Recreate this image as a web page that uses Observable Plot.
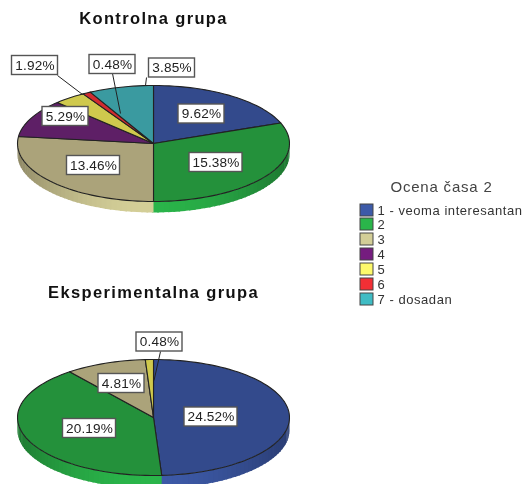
<!DOCTYPE html>
<html><head><meta charset="utf-8">
<style>
html,body{margin:0;padding:0;background:#fff;overflow:hidden}
svg{display:block;filter:blur(.5px)}
.ttl text{letter-spacing:1.35px}
.lgt text{letter-spacing:.8px}
.lgi text{letter-spacing:.55px}
.lab text{letter-spacing:.15px}
</style>
<script src="https://cdn.jsdelivr.net/npm/d3@7"></script>
<script src="https://cdn.jsdelivr.net/npm/@observablehq/plot@0.6"></script>
</head><body>
<div id="chart"></div>
<script>
const categories = ["1 - veoma interesantan","2","3","4","5","6","7 - dosadan"];
const kontrolna = [9.62,15.38,13.46,5.29,1.92,0.48,3.85];
const eksperimentalna = [24.52,20.19,4.81,0,0.48,0,0];
const legendColors = ["#3d5aa8","#2ab54a","#d3ce97","#751c7f","#fdf96b","#f22f35","#3fbcc4"];
const topColors = ["#334a8c","#24913b","#aba37a","#5e1f66","#cfc94d","#d12b2f","#3a9aa0"];
const legendTitle = "Ocena časa 2";

// layout of the two pies, in page pixels
const pies = [
  {title:"Kontrolna grupa", values:kontrolna, cx:153, cy:143, rx:136, ry:58, depth:11, titleY:18,
   labels:[[201,113.5],[215.5,162],[93,165],[65,116],[34.5,65],[112,64],[171.5,67.5]],
   leaders:[null,null,null,null,[57,75,82,94],[112,73,120,113],[146,77,145,85]]},
  {title:"Eksperimentalna grupa", values:eksperimentalna, cx:153, cy:417, rx:136, ry:58, depth:13, titleY:292,
   labels:[[210.5,416.5],[89,428],[121,383],null,[159,341.5],null,null],
   leaders:[null,null,null,null,[160,351,153.5,380],null,null]}
];

const tops=[], walls=[], labels=[], leaders=[], titles=[];
for (const p of pies) {
  titles.push({t:p.title, x:p.cx, y:p.titleY});
  const arcs = d3.pie().sort(null)(p.values);
  const px = a => p.cx + p.rx*Math.sin(a), py = a => p.cy - p.ry*Math.cos(a);
  arcs.forEach((arc,i)=>{
    if (!p.values[i]) return;
    const id = p.title+i, span = arc.endAngle-arc.startAngle, n = Math.max(2,Math.ceil(span/0.04));
    const pts=[{x:p.cx,y:p.cy}];
    for(let k=0;k<=n;k++){const a=arc.startAngle+span*k/n; pts.push({x:px(a),y:py(a)});}
    pts.push({x:p.cx,y:p.cy});
    pts.forEach(d=>tops.push({...d,id,cat:categories[i]}));
    // side wall: narrow strips on the front half of the rim
    for(let k=0;k<n;k++){
      const a0=arc.startAngle+span*k/n, a1=arc.startAngle+span*(k+1)/n;
      if (Math.cos(a0)>0 && Math.cos(a1)>0) continue;
      const m=(a0+a1)/2;
      // lighting: brightest at the front, just left of the bottom
      const light=Math.max(0,1-Math.abs(m-Math.PI*1.02)/1.5);
      const shade=d3.interpolateRgb(d3.rgb(topColors[i]).darker(0.5),legendColors[i])(light*light*(3-2*light));
      const sid=id+"s"+k;
      const e=a1+.012;
      [[px(a0),py(a0)],[px(e),py(e)],[px(e),py(e)+p.depth],[px(a0),py(a0)+p.depth]]
        .forEach(([x,y])=>walls.push({x,y,id:sid,fill:shade}));
    }
    if (p.labels[i]) labels.push({t:p.values[i].toFixed(2)+"%",x:p.labels[i][0],y:p.labels[i][1]});
    if (p.leaders[i]) leaders.push(p.leaders[i]);
  });
}
const legend = categories.map((c,i)=>({c,fill:legendColors[i],y:210+15*i-(i?1:0)}));

const halfW = d => d.t.length===5 ? 23 : 26.5, halfH = 9.5;
const plot = Plot.plot({
  width:524, height:484, margin:0,
  x:{domain:[0,524],range:[0,524],axis:null},
  y:{domain:[0,484],range:[0,484],axis:null},
  color:{domain:categories,range:topColors},
  style:{background:"#fff",fontFamily:"'Liberation Sans',Arial,sans-serif"},
  marks:[
    Plot.line(walls,{x:"x",y:"y",z:"id",fill:"fill",stroke:"none",curve:"linear"}),
    Plot.line(tops,{x:"x",y:"y",z:"id",fill:"cat",stroke:"#222",strokeWidth:1.1,curve:"linear"}),
    Plot.link(leaders,{x1:d=>d[0],y1:d=>d[1],x2:d=>d[2],y2:d=>d[3],stroke:"#222",strokeWidth:1}),
    Plot.rect(labels,{x1:d=>d.x-halfW(d),x2:d=>d.x+halfW(d),y1:d=>d.y-halfH,y2:d=>d.y+halfH,fill:"#fff",stroke:"#555",strokeWidth:1.4}),
    Plot.text(labels,{x:"x",y:"y",text:"t",fontSize:13.6,fill:"#222",className:"lab"}),
    Plot.text(titles,{x:"x",y:"y",text:"t",fontSize:16.5,fontWeight:"bold",fill:"#111",className:"ttl"}),
    Plot.text([legendTitle],{x:()=>441,y:()=>187,text:d=>d,fontSize:15,fill:"#444",className:"lgt"}),
    Plot.rect(legend,{x1:()=>360,x2:()=>373,y1:d=>d.y-6,y2:d=>d.y+6,fill:"fill",stroke:"#444",strokeWidth:1}),
    Plot.text(legend,{x:()=>377,y:"y",text:"c",textAnchor:"start",fontSize:13,fill:"#333",className:"lgi"})
  ]
});
document.getElementById("chart").append(plot);
</script>
</body></html>
